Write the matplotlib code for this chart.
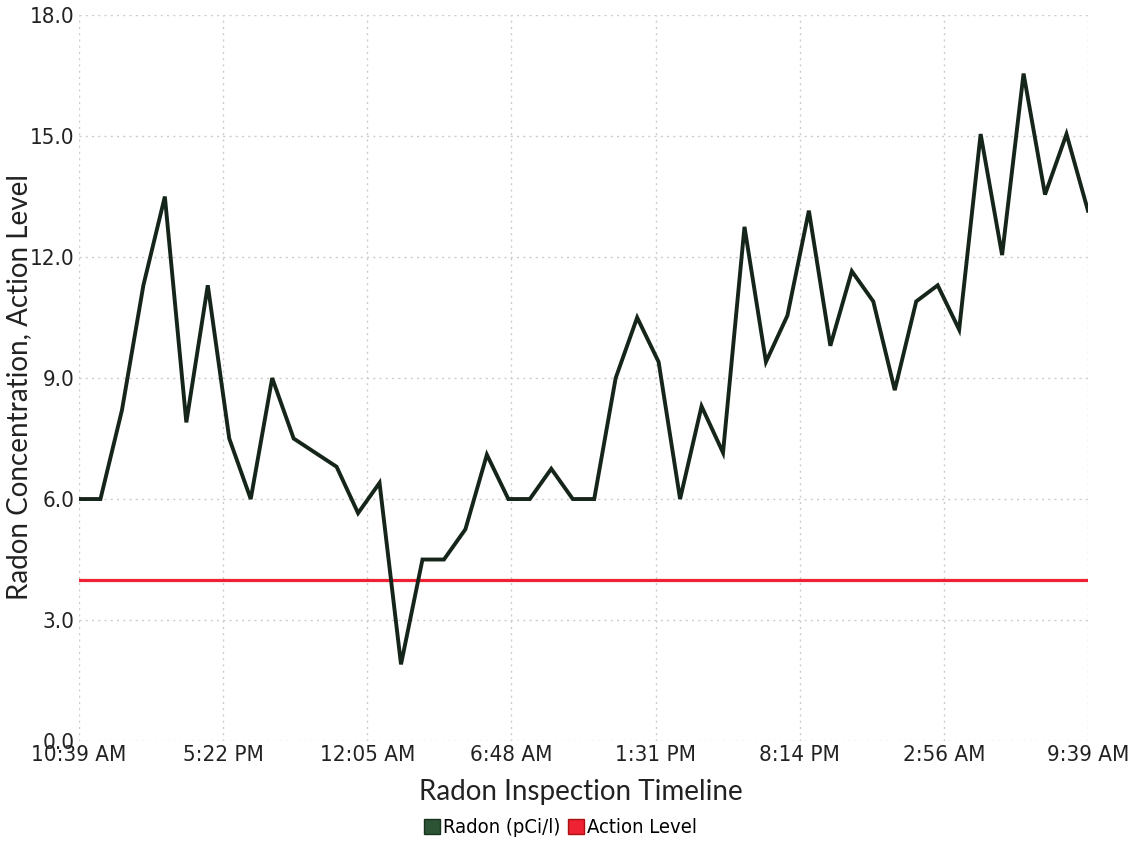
import matplotlib.pyplot as plt
from matplotlib.patches import Patch
from matplotlib.font_manager import FontProperties

# hourly readings, first one at 10:39 AM
radon = [6.0, 6.0, 8.2, 11.3, 13.5, 7.9, 11.3, 7.5, 6.0, 9.0,
         7.5, 7.15, 6.8, 5.65, 6.4, 1.9, 4.5, 4.5, 5.25, 7.1,
         6.0, 6.0, 6.75, 6.0, 6.0, 9.0, 10.5, 9.4, 6.0, 8.3,
         7.15, 12.75, 9.4, 10.55, 13.15, 9.8, 11.65, 10.9, 8.7, 10.9,
         11.3, 10.2, 15.05, 12.05, 16.55, 13.55, 15.05, 13.15]
action_level = 4.0
hours = list(range(len(radon)))

tick_labels = ['10:39 AM', '5:22 PM', '12:05 AM', '6:48 AM',
               '1:31 PM', '8:14 PM', '2:56 AM', '9:39 AM']
y_ticks = [0, 3, 6, 9, 12, 15, 18]

tick_font = FontProperties(family=['DejaVu Sans', 'Liberation Sans'], stretch='condensed', size=16)
legend_font = FontProperties(family=['DejaVu Sans', 'Liberation Sans'], stretch='condensed', size=14.5)
plain = ['Lato', 'DejaVu Sans']

line_color = '#15251a'
green = '#2b5334'
red = '#ee2233'

fig = plt.figure(figsize=(11.3, 8.43), dpi=100)
ax = fig.add_axes([0.0699, 0.121, 0.8929, 0.8611])

ax.plot(hours, radon, color=line_color, linewidth=2.8, solid_joinstyle='miter', zorder=3)
ax.plot([hours[0], hours[-1]], [action_level, action_level], color=red, linewidth=2.3, zorder=2)

ax.set_xlim(hours[0], hours[-1])
ax.set_ylim(0, 18)
span = hours[-1] - hours[0]
xt = [hours[0] + span * i / (len(tick_labels) - 1) for i in range(len(tick_labels))]
ax.set_xticks(xt)
ax.set_xticklabels(tick_labels, fontproperties=tick_font, color='#222222')
ax.set_yticks(y_ticks)
ax.set_yticklabels(['%.1f' % v for v in y_ticks], fontproperties=tick_font, color='#222222')
ax.tick_params(length=0, pad=3)

for s in ax.spines.values():
    s.set_visible(False)
ax.grid(True, color='#cccccc', linestyle=(0, (1.5, 3)), linewidth=1)
ax.set_axisbelow(True)

ax.set_xlabel('Radon Inspection Timeline', family=plain, fontsize=20, color='#222222')
ax.xaxis.set_label_coords(0.497, -0.052)
ax.set_ylabel('Radon Concentration, Action Level', family=plain, fontsize=20, color='#222222')
ax.yaxis.set_label_coords(-0.047, 0.488)

handles = [Patch(facecolor=green, edgecolor='#1a3320', label='Radon (pCi/l)'),
           Patch(facecolor=red, edgecolor='#aa1111', label='Action Level')]
fig.legend(handles=handles, loc='center', bbox_to_anchor=(0.496, 0.018), ncol=2, frameon=False,
           handlelength=0.8, handleheight=0.8, handletextpad=0.15, columnspacing=0.4,
           prop=legend_font)

fig.savefig('out.png', dpi=100)
